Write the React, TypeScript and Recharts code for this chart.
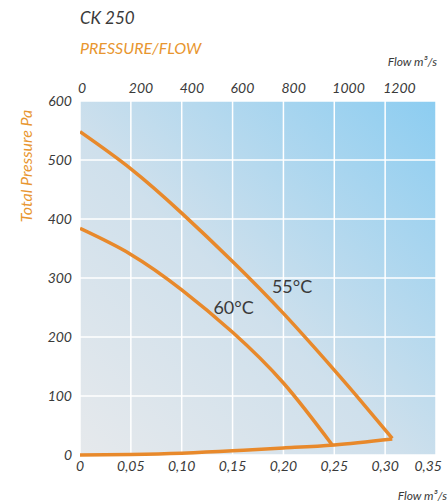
import React from "react"
import { LineChart, Line, XAxis, YAxis, CartesianGrid, ReferenceDot } from "recharts"

// flow in m³/s, pressure in Pa
const flow55 = [0, 0.05, 0.1, 0.15, 0.2, 0.25, 0.275, 0.307]
const pressure55 = [548, 485, 410, 328, 240, 144, 94, 28]

const flow60 = [0, 0.05, 0.1, 0.15, 0.2, 0.248]
const pressure60 = [384, 340, 280, 208, 122, 17]

const flowSystem = [0, 0.05, 0.1, 0.15, 0.2, 0.25, 0.307]
const pressureSystem = [0, 1, 3, 7, 12, 17, 27]

const bottomTicks = [0, 0.05, 0.1, 0.15, 0.2, 0.25, 0.3, 0.35]
const bottomTickLabels = ["0", "0,05", "0,10", "0,15", "0,20", "0,25", "0,30", "0,35"]
const topTicks = [0, 0.05, 0.1, 0.15, 0.2, 0.25, 0.3]
const topTickLabels = ["0", "200", "400", "600", "800", "1000", "1200"]
const pressureTicks = [0, 100, 200, 300, 400, 500, 600]

const zip = (qs: number[], ps: number[]) => qs.map((q, i) => ({ q, p: ps[i] }))

const ORANGE = "#e8892b"
const TEXT = "#3a3a3a"
const FONT = "Lato, 'Open Sans', sans-serif"

function BottomTick(props: any) {
  const { x, y, payload, index } = props
  const last = index === bottomTicks.length - 1
  return (
    <text x={last ? x + 6 : x} y={y} dy="0.71em" textAnchor={last ? "end" : "middle"}
      fill={TEXT} fontSize={14} fontStyle="italic" fontFamily={FONT}>
      {bottomTickLabels[bottomTicks.indexOf(payload.value)]}
    </text>
  )
}

function TopTick(props: any) {
  const { x, y, payload } = props
  return (
    <text x={x - 2} y={y} textAnchor="start" fill={TEXT} fontSize={14} fontStyle="italic" fontFamily={FONT}>
      {topTickLabels[topTicks.indexOf(payload.value)]}
    </text>
  )
}

export default function App() {
  return (
    <div style={{ position: "absolute", left: 0, top: 0, width: 448, height: 504, background: "#fff", fontFamily: FONT }}>
      <div style={{ position: "absolute", left: 80, top: 7, fontSize: 17, fontStyle: "italic", color: TEXT }}>CK 250</div>
      <div style={{ position: "absolute", left: 80, top: 38, fontSize: 16, fontStyle: "italic", color: "#e8962f" }}>PRESSURE/FLOW</div>
      <div style={{ position: "absolute", right: 11, top: 54, fontSize: 12, fontStyle: "italic", color: TEXT }}>Flow m³/s</div>
      <div style={{ position: "absolute", right: 1, top: 488, fontSize: 12, fontStyle: "italic", color: TEXT }}>Flow m³/s</div>
      <div style={{
        position: "absolute", left: 25, top: 166, transform: "translate(-50%, -50%) rotate(-90deg)",
        whiteSpace: "nowrap", fontSize: 16, fontStyle: "italic", color: "#e8962f",
      }}>Total Pressure Pa</div>
      <LineChart width={448} height={504} margin={{ top: 81, right: 12, bottom: 25, left: 8 }}>
        <defs>
          <linearGradient id="bg" x1="0" y1="1" x2="1" y2="0">
            <stop offset="0%" stopColor="#e6e9ec" />
            <stop offset="45%" stopColor="#cfe0ec" />
            <stop offset="100%" stopColor="#8ccdf1" />
          </linearGradient>
        </defs>
        <CartesianGrid stroke="#ffffff" strokeWidth={1.5} fill="url(#bg)" fillOpacity={1} xAxisId="bottom" />
        <XAxis xAxisId="bottom" dataKey="q" type="number" domain={[0, 0.35]} ticks={bottomTicks}
          tick={<BottomTick />} tickLine={false} axisLine={false} tickSize={0} tickMargin={6} height={24}
          interval={0} allowDataOverflow />
        <XAxis xAxisId="top" orientation="top" dataKey="q" type="number" domain={[0, 0.35]} ticks={topTicks}
          tick={<TopTick />} tickLine={false} axisLine={false} tickSize={0} tickMargin={8} height={20}
          interval={0} allowDataOverflow />
        <YAxis type="number" domain={[0, 600]} ticks={pressureTicks} width={72} tickLine={false} axisLine={false}
          tickSize={0} tickMargin={8} interval={0}
          tick={{ fill: TEXT, fontSize: 14, fontStyle: "italic", fontFamily: FONT }} />
        <Line xAxisId="bottom" data={zip(flowSystem, pressureSystem)} dataKey="p" type="natural"
          stroke={ORANGE} strokeWidth={3.5} dot={false} isAnimationActive={false} />
        <Line xAxisId="bottom" data={zip(flow60, pressure60)} dataKey="p" type="natural"
          stroke={ORANGE} strokeWidth={3.5} dot={false} isAnimationActive={false} />
        <Line xAxisId="bottom" data={zip(flow55, pressure55)} dataKey="p" type="natural"
          stroke={ORANGE} strokeWidth={3.5} dot={false} isAnimationActive={false} />
        <ReferenceDot xAxisId="bottom" x={0.2085} y={285} r={0}
          label={{ value: "55°C", position: "center", fill: TEXT, fontSize: 18, fontFamily: FONT }} />
        <ReferenceDot xAxisId="bottom" x={0.151} y={249} r={0}
          label={{ value: "60°C", position: "center", fill: TEXT, fontSize: 18, fontFamily: FONT }} />
      </LineChart>
    </div>
  )
}
